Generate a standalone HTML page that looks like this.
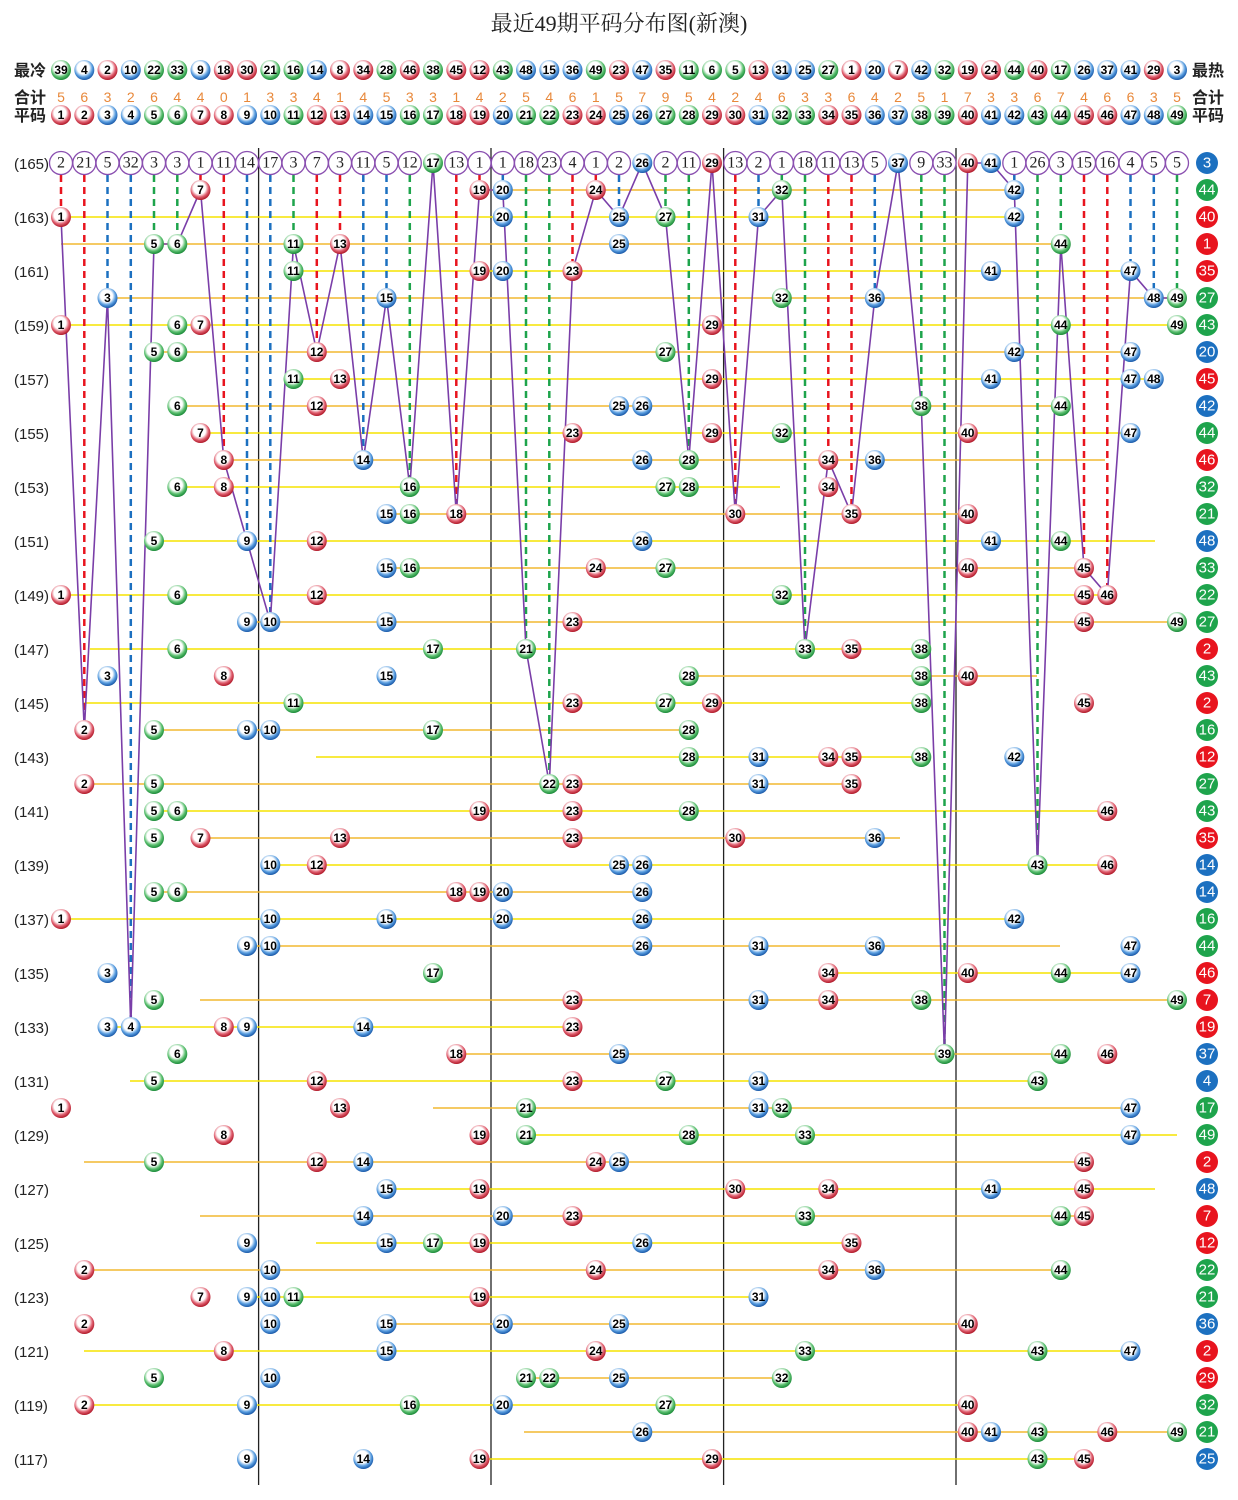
<!DOCTYPE html>
<html><head><meta charset="utf-8"><style>
body{margin:0;background:#fff}
svg{display:block}
text{font-family:"Liberation Sans","Noto Sans CJK SC",sans-serif}
.r circle{fill:url(#gr)}.b circle{fill:url(#gb)}.g circle{fill:url(#gg)}
.r text,.b text,.g text{font-size:12px;font-weight:bold;text-anchor:middle;dominant-baseline:central;fill:#000}
.t circle{fill:#fff;stroke:#8a4fb0;stroke-width:1.3}
.t text{font-family:"Liberation Serif",serif;font-size:16px;text-anchor:middle;dominant-baseline:central;fill:#222}
.s text{font-size:15px;text-anchor:middle;dominant-baseline:central;fill:#fff}
.sr{fill:#e8141e}.sb{fill:#1c70c0}.sg{fill:#1ea44c}
.lab{font-size:15px;fill:#222}
.hd{font-size:16px;font-weight:bold;fill:#222}
.cnt{font-size:14px;fill:#e8883a;text-anchor:middle}
.dr{stroke:#e8141e}.db{stroke:#1c70c0}.dg{stroke:#1ea44c}
.d line{stroke-width:2.5;stroke-dasharray:7 5}
.ly{stroke:#f5e400;stroke-width:1.6}.lo{stroke:#f2b830;stroke-width:1.6}
</style></head><body>
<svg width="1238" height="1500" viewBox="0 0 1238 1500" xmlns="http://www.w3.org/2000/svg">
<defs>
<radialGradient id="gr" cx="45%" cy="40%" r="60%"><stop offset="0" stop-color="#fff"/><stop offset=".5" stop-color="#fff"/><stop offset=".75" stop-color="#e06070"/><stop offset="1" stop-color="#b01828"/></radialGradient>
<radialGradient id="gb" cx="45%" cy="40%" r="60%"><stop offset="0" stop-color="#fff"/><stop offset=".5" stop-color="#fff"/><stop offset=".75" stop-color="#5a9ee0"/><stop offset="1" stop-color="#1858a8"/></radialGradient>
<radialGradient id="gg" cx="45%" cy="40%" r="60%"><stop offset="0" stop-color="#fff"/><stop offset=".5" stop-color="#fff"/><stop offset=".75" stop-color="#5cc070"/><stop offset="1" stop-color="#1a8a38"/></radialGradient>
</defs>
<text x="619" y="31" text-anchor="middle" style="font-family:'Liberation Serif','Noto Serif CJK SC',serif;font-size:22px;fill:#222">最近49期平码分布图(新澳)</text>

<!-- header labels -->
<text class="hd" x="14" y="76">最冷</text>
<text class="hd" x="1192" y="76">最热</text>
<text class="hd" x="14" y="103">合计</text>
<text class="hd" x="1192" y="103">合计</text>
<text class="hd" x="14" y="121">平码</text>
<text class="hd" x="1192" y="121">平码</text>

<!-- separators -->
<g stroke="#222" stroke-width="1.3">
<line x1="258.6" y1="148" x2="258.6" y2="1485"/><line x1="491" y1="148" x2="491" y2="1485"/><line x1="723.6" y1="148" x2="723.6" y2="1485"/><line x1="956" y1="148" x2="956" y2="1485"/>
</g>

<!-- horizontal lines -->
<g>
<line class="lo" x1="480" y1="190" x2="1015" y2="190"/>
<line class="ly" x1="61" y1="217" x2="1015" y2="217"/>
<line class="lo" x1="61" y1="244" x2="1060" y2="244"/>
<line class="ly" x1="290" y1="271" x2="1130" y2="271"/>
<line class="lo" x1="107" y1="298" x2="1177" y2="298"/>
<line class="ly" x1="61" y1="325" x2="1177" y2="325"/>
<line class="lo" x1="154" y1="352" x2="1130" y2="352"/>
<line class="ly" x1="290" y1="379" x2="1155" y2="379"/>
<line class="lo" x1="177" y1="406" x2="1060" y2="406"/>
<line class="ly" x1="200" y1="433" x2="1130" y2="433"/>
<line class="lo" x1="224" y1="460" x2="1105" y2="460"/>
<line class="ly" x1="177" y1="487" x2="780" y2="487"/>
<line class="lo" x1="386" y1="514" x2="967" y2="514"/>
<line class="ly" x1="154" y1="541" x2="1155" y2="541"/>
<line class="lo" x1="386" y1="568" x2="1085" y2="568"/>
<line class="ly" x1="61" y1="595" x2="1107" y2="595"/>
<line class="lo" x1="247" y1="622" x2="1177" y2="622"/>
<line class="ly" x1="90" y1="649" x2="921" y2="649"/>
<line class="lo" x1="688" y1="676" x2="1037" y2="676"/>
<line class="ly" x1="84" y1="703" x2="921" y2="703"/>
<line class="lo" x1="154" y1="730" x2="688" y2="730"/>
<line class="ly" x1="316" y1="757" x2="921" y2="757"/>
<line class="lo" x1="84" y1="784" x2="851" y2="784"/>
<line class="ly" x1="154" y1="811" x2="1107" y2="811"/>
<line class="lo" x1="200" y1="838" x2="900" y2="838"/>
<line class="ly" x1="270" y1="865" x2="1107" y2="865"/>
<line class="lo" x1="154" y1="892" x2="642" y2="892"/>
<line class="ly" x1="61" y1="919" x2="1015" y2="919"/>
<line class="lo" x1="247" y1="946" x2="1060" y2="946"/>
<line class="ly" x1="828" y1="973" x2="1130" y2="973"/>
<line class="lo" x1="200" y1="1000" x2="1177" y2="1000"/>
<line class="ly" x1="107" y1="1027" x2="572" y2="1027"/>
<line class="lo" x1="456" y1="1054" x2="1060" y2="1054"/>
<line class="ly" x1="130" y1="1081" x2="1037" y2="1081"/>
<line class="lo" x1="433" y1="1108" x2="1130" y2="1108"/>
<line class="ly" x1="524" y1="1135" x2="1177" y2="1135"/>
<line class="lo" x1="84" y1="1162" x2="1085" y2="1162"/>
<line class="ly" x1="386" y1="1189" x2="1155" y2="1189"/>
<line class="lo" x1="200" y1="1216" x2="1085" y2="1216"/>
<line class="ly" x1="316" y1="1243" x2="851" y2="1243"/>
<line class="lo" x1="84" y1="1270" x2="1060" y2="1270"/>
<line class="ly" x1="247" y1="1297" x2="760" y2="1297"/>
<line class="lo" x1="386" y1="1324" x2="967" y2="1324"/>
<line class="ly" x1="84" y1="1351" x2="1130" y2="1351"/>
<line class="lo" x1="524" y1="1378" x2="782" y2="1378"/>
<line class="ly" x1="84" y1="1405" x2="967" y2="1405"/>
<line class="lo" x1="524" y1="1432" x2="1177" y2="1432"/>
<line class="ly" x1="480" y1="1459" x2="1085" y2="1459"/>
</g>

<!-- dashed lines -->
<g class="d">
<line class="dr" x1="61" y1="175" x2="61" y2="207"/>
<line class="dr" x1="84.3" y1="175" x2="84.3" y2="720"/>
<line class="db" x1="107.5" y1="175" x2="107.5" y2="288"/>
<line class="db" x1="130.8" y1="175" x2="130.8" y2="1017"/>
<line class="dg" x1="154" y1="175" x2="154" y2="234"/>
<line class="dg" x1="177.3" y1="175" x2="177.3" y2="234"/>
<line class="dr" x1="200.5" y1="175" x2="200.5" y2="180"/>
<line class="dr" x1="223.8" y1="175" x2="223.8" y2="450"/>
<line class="db" x1="247" y1="175" x2="247" y2="531"/>
<line class="db" x1="270.3" y1="175" x2="270.3" y2="612"/>
<line class="dg" x1="293.5" y1="175" x2="293.5" y2="234"/>
<line class="dr" x1="316.8" y1="175" x2="316.8" y2="342"/>
<line class="dr" x1="340" y1="175" x2="340" y2="234"/>
<line class="db" x1="363.3" y1="175" x2="363.3" y2="450"/>
<line class="db" x1="386.5" y1="175" x2="386.5" y2="288"/>
<line class="dg" x1="409.8" y1="175" x2="409.8" y2="477"/>
<line class="dr" x1="456.3" y1="175" x2="456.3" y2="504"/>
<line class="dr" x1="479.5" y1="175" x2="479.5" y2="180"/>
<line class="db" x1="502.8" y1="175" x2="502.8" y2="180"/>
<line class="dg" x1="526" y1="175" x2="526" y2="639"/>
<line class="dg" x1="549.3" y1="175" x2="549.3" y2="774"/>
<line class="dr" x1="572.5" y1="175" x2="572.5" y2="261"/>
<line class="dr" x1="595.8" y1="175" x2="595.8" y2="180"/>
<line class="db" x1="619" y1="175" x2="619" y2="207"/>
<line class="dg" x1="665.5" y1="175" x2="665.5" y2="207"/>
<line class="dg" x1="688.8" y1="175" x2="688.8" y2="450"/>
<line class="dr" x1="735.3" y1="175" x2="735.3" y2="504"/>
<line class="db" x1="758.5" y1="175" x2="758.5" y2="207"/>
<line class="dg" x1="781.8" y1="175" x2="781.8" y2="180"/>
<line class="dg" x1="805" y1="175" x2="805" y2="639"/>
<line class="dr" x1="828.3" y1="175" x2="828.3" y2="450"/>
<line class="dr" x1="851.5" y1="175" x2="851.5" y2="504"/>
<line class="db" x1="874.8" y1="175" x2="874.8" y2="288"/>
<line class="dg" x1="921.3" y1="175" x2="921.3" y2="396"/>
<line class="dg" x1="944.5" y1="175" x2="944.5" y2="1044"/>
<line class="db" x1="1014.3" y1="175" x2="1014.3" y2="180"/>
<line class="dg" x1="1037.5" y1="175" x2="1037.5" y2="855"/>
<line class="dg" x1="1060.8" y1="175" x2="1060.8" y2="234"/>
<line class="dr" x1="1084" y1="175" x2="1084" y2="558"/>
<line class="dr" x1="1107.3" y1="175" x2="1107.3" y2="585"/>
<line class="db" x1="1130.5" y1="175" x2="1130.5" y2="261"/>
<line class="db" x1="1153.8" y1="175" x2="1153.8" y2="288"/>
<line class="dg" x1="1177" y1="175" x2="1177" y2="288"/>
</g>

<!-- purple line -->
<polyline fill="none" stroke="#7a3ea8" stroke-width="1.6" points="61,217 84.3,730 107.5,298 130.8,1027 154,244 177.3,244 200.5,190 223.8,460 247,541 270.3,622 293.5,244 316.8,352 340,244 363.3,460 386.5,298 409.8,487 433,163 456.3,514 479.5,190 502.8,190 526,649 549.3,784 572.5,271 595.8,190 619,217 642.3,163 665.5,217 688.8,460 712,163 735.3,514 758.5,217 781.8,190 805,649 828.3,460 851.5,514 874.8,298 898,163 921.3,406 944.5,1054 967.8,163 991,163 1014.3,190 1037.5,865 1060.8,244 1084,568 1107.3,595 1130.5,271 1153.8,298 1177,298"/>

<!-- row labels -->
<g class="lab">
<text x="14" y="169">(165)</text><text x="14" y="223">(163)</text><text x="14" y="277">(161)</text><text x="14" y="331">(159)</text><text x="14" y="385">(157)</text><text x="14" y="439">(155)</text><text x="14" y="493">(153)</text><text x="14" y="547">(151)</text><text x="14" y="601">(149)</text><text x="14" y="655">(147)</text><text x="14" y="709">(145)</text><text x="14" y="763">(143)</text><text x="14" y="817">(141)</text><text x="14" y="871">(139)</text><text x="14" y="925">(137)</text><text x="14" y="979">(135)</text><text x="14" y="1033">(133)</text><text x="14" y="1087">(131)</text><text x="14" y="1141">(129)</text><text x="14" y="1195">(127)</text><text x="14" y="1249">(125)</text><text x="14" y="1303">(123)</text><text x="14" y="1357">(121)</text><text x="14" y="1411">(119)</text><text x="14" y="1465">(117)</text>
</g>

<!-- 合计 counts -->
<g class="cnt">
<text x="61" y="102">5</text><text x="84.3" y="102">6</text><text x="107.5" y="102">3</text><text x="130.8" y="102">2</text><text x="154" y="102">6</text><text x="177.3" y="102">4</text><text x="200.5" y="102">4</text><text x="223.8" y="102">0</text><text x="247" y="102">1</text><text x="270.3" y="102">3</text><text x="293.5" y="102">3</text><text x="316.8" y="102">4</text><text x="340" y="102">1</text><text x="363.3" y="102">4</text><text x="386.5" y="102">5</text><text x="409.8" y="102">3</text><text x="433" y="102">3</text><text x="456.3" y="102">1</text><text x="479.5" y="102">4</text><text x="502.8" y="102">2</text><text x="526" y="102">5</text><text x="549.3" y="102">4</text><text x="572.5" y="102">6</text><text x="595.8" y="102">1</text><text x="619" y="102">5</text><text x="642.3" y="102">7</text><text x="665.5" y="102">9</text><text x="688.8" y="102">5</text><text x="712" y="102">4</text><text x="735.3" y="102">2</text><text x="758.5" y="102">4</text><text x="781.8" y="102">6</text><text x="805" y="102">3</text><text x="828.3" y="102">3</text><text x="851.5" y="102">6</text><text x="874.8" y="102">4</text><text x="898" y="102">2</text><text x="921.3" y="102">5</text><text x="944.5" y="102">1</text><text x="967.8" y="102">7</text><text x="991" y="102">3</text><text x="1014.3" y="102">3</text><text x="1037.5" y="102">6</text><text x="1060.8" y="102">7</text><text x="1084" y="102">4</text><text x="1107.3" y="102">6</text><text x="1130.5" y="102">6</text><text x="1153.8" y="102">3</text><text x="1177" y="102">5</text>
</g>

<!-- 最冷 row -->
<g class="g" transform="translate(61 70)"><circle r="10"/><text>39</text></g>
<g class="b" transform="translate(84.3 70)"><circle r="10"/><text>4</text></g>
<g class="r" transform="translate(107.5 70)"><circle r="10"/><text>2</text></g>
<g class="b" transform="translate(130.8 70)"><circle r="10"/><text>10</text></g>
<g class="g" transform="translate(154 70)"><circle r="10"/><text>22</text></g>
<g class="g" transform="translate(177.3 70)"><circle r="10"/><text>33</text></g>
<g class="b" transform="translate(200.5 70)"><circle r="10"/><text>9</text></g>
<g class="r" transform="translate(223.8 70)"><circle r="10"/><text>18</text></g>
<g class="r" transform="translate(247 70)"><circle r="10"/><text>30</text></g>
<g class="g" transform="translate(270.3 70)"><circle r="10"/><text>21</text></g>
<g class="g" transform="translate(293.5 70)"><circle r="10"/><text>16</text></g>
<g class="b" transform="translate(316.8 70)"><circle r="10"/><text>14</text></g>
<g class="r" transform="translate(340 70)"><circle r="10"/><text>8</text></g>
<g class="r" transform="translate(363.3 70)"><circle r="10"/><text>34</text></g>
<g class="g" transform="translate(386.5 70)"><circle r="10"/><text>28</text></g>
<g class="r" transform="translate(409.8 70)"><circle r="10"/><text>46</text></g>
<g class="g" transform="translate(433 70)"><circle r="10"/><text>38</text></g>
<g class="r" transform="translate(456.3 70)"><circle r="10"/><text>45</text></g>
<g class="r" transform="translate(479.5 70)"><circle r="10"/><text>12</text></g>
<g class="g" transform="translate(502.8 70)"><circle r="10"/><text>43</text></g>
<g class="b" transform="translate(526 70)"><circle r="10"/><text>48</text></g>
<g class="b" transform="translate(549.3 70)"><circle r="10"/><text>15</text></g>
<g class="b" transform="translate(572.5 70)"><circle r="10"/><text>36</text></g>
<g class="g" transform="translate(595.8 70)"><circle r="10"/><text>49</text></g>
<g class="r" transform="translate(619 70)"><circle r="10"/><text>23</text></g>
<g class="b" transform="translate(642.3 70)"><circle r="10"/><text>47</text></g>
<g class="r" transform="translate(665.5 70)"><circle r="10"/><text>35</text></g>
<g class="g" transform="translate(688.8 70)"><circle r="10"/><text>11</text></g>
<g class="g" transform="translate(712 70)"><circle r="10"/><text>6</text></g>
<g class="g" transform="translate(735.3 70)"><circle r="10"/><text>5</text></g>
<g class="r" transform="translate(758.5 70)"><circle r="10"/><text>13</text></g>
<g class="b" transform="translate(781.8 70)"><circle r="10"/><text>31</text></g>
<g class="b" transform="translate(805 70)"><circle r="10"/><text>25</text></g>
<g class="g" transform="translate(828.3 70)"><circle r="10"/><text>27</text></g>
<g class="r" transform="translate(851.5 70)"><circle r="10"/><text>1</text></g>
<g class="b" transform="translate(874.8 70)"><circle r="10"/><text>20</text></g>
<g class="r" transform="translate(898 70)"><circle r="10"/><text>7</text></g>
<g class="b" transform="translate(921.3 70)"><circle r="10"/><text>42</text></g>
<g class="g" transform="translate(944.5 70)"><circle r="10"/><text>32</text></g>
<g class="r" transform="translate(967.8 70)"><circle r="10"/><text>19</text></g>
<g class="r" transform="translate(991 70)"><circle r="10"/><text>24</text></g>
<g class="g" transform="translate(1014.3 70)"><circle r="10"/><text>44</text></g>
<g class="r" transform="translate(1037.5 70)"><circle r="10"/><text>40</text></g>
<g class="g" transform="translate(1060.8 70)"><circle r="10"/><text>17</text></g>
<g class="b" transform="translate(1084 70)"><circle r="10"/><text>26</text></g>
<g class="b" transform="translate(1107.3 70)"><circle r="10"/><text>37</text></g>
<g class="b" transform="translate(1130.5 70)"><circle r="10"/><text>41</text></g>
<g class="r" transform="translate(1153.8 70)"><circle r="10"/><text>29</text></g>
<g class="b" transform="translate(1177 70)"><circle r="10"/><text>3</text></g>

<!-- 平码 row -->
<g class="r" transform="translate(61 115)"><circle r="10"/><text>1</text></g>
<g class="r" transform="translate(84.3 115)"><circle r="10"/><text>2</text></g>
<g class="b" transform="translate(107.5 115)"><circle r="10"/><text>3</text></g>
<g class="b" transform="translate(130.8 115)"><circle r="10"/><text>4</text></g>
<g class="g" transform="translate(154 115)"><circle r="10"/><text>5</text></g>
<g class="g" transform="translate(177.3 115)"><circle r="10"/><text>6</text></g>
<g class="r" transform="translate(200.5 115)"><circle r="10"/><text>7</text></g>
<g class="r" transform="translate(223.8 115)"><circle r="10"/><text>8</text></g>
<g class="b" transform="translate(247 115)"><circle r="10"/><text>9</text></g>
<g class="b" transform="translate(270.3 115)"><circle r="10"/><text>10</text></g>
<g class="g" transform="translate(293.5 115)"><circle r="10"/><text>11</text></g>
<g class="r" transform="translate(316.8 115)"><circle r="10"/><text>12</text></g>
<g class="r" transform="translate(340 115)"><circle r="10"/><text>13</text></g>
<g class="b" transform="translate(363.3 115)"><circle r="10"/><text>14</text></g>
<g class="b" transform="translate(386.5 115)"><circle r="10"/><text>15</text></g>
<g class="g" transform="translate(409.8 115)"><circle r="10"/><text>16</text></g>
<g class="g" transform="translate(433 115)"><circle r="10"/><text>17</text></g>
<g class="r" transform="translate(456.3 115)"><circle r="10"/><text>18</text></g>
<g class="r" transform="translate(479.5 115)"><circle r="10"/><text>19</text></g>
<g class="b" transform="translate(502.8 115)"><circle r="10"/><text>20</text></g>
<g class="g" transform="translate(526 115)"><circle r="10"/><text>21</text></g>
<g class="g" transform="translate(549.3 115)"><circle r="10"/><text>22</text></g>
<g class="r" transform="translate(572.5 115)"><circle r="10"/><text>23</text></g>
<g class="r" transform="translate(595.8 115)"><circle r="10"/><text>24</text></g>
<g class="b" transform="translate(619 115)"><circle r="10"/><text>25</text></g>
<g class="b" transform="translate(642.3 115)"><circle r="10"/><text>26</text></g>
<g class="g" transform="translate(665.5 115)"><circle r="10"/><text>27</text></g>
<g class="g" transform="translate(688.8 115)"><circle r="10"/><text>28</text></g>
<g class="r" transform="translate(712 115)"><circle r="10"/><text>29</text></g>
<g class="r" transform="translate(735.3 115)"><circle r="10"/><text>30</text></g>
<g class="b" transform="translate(758.5 115)"><circle r="10"/><text>31</text></g>
<g class="g" transform="translate(781.8 115)"><circle r="10"/><text>32</text></g>
<g class="g" transform="translate(805 115)"><circle r="10"/><text>33</text></g>
<g class="r" transform="translate(828.3 115)"><circle r="10"/><text>34</text></g>
<g class="r" transform="translate(851.5 115)"><circle r="10"/><text>35</text></g>
<g class="b" transform="translate(874.8 115)"><circle r="10"/><text>36</text></g>
<g class="b" transform="translate(898 115)"><circle r="10"/><text>37</text></g>
<g class="g" transform="translate(921.3 115)"><circle r="10"/><text>38</text></g>
<g class="g" transform="translate(944.5 115)"><circle r="10"/><text>39</text></g>
<g class="r" transform="translate(967.8 115)"><circle r="10"/><text>40</text></g>
<g class="b" transform="translate(991 115)"><circle r="10"/><text>41</text></g>
<g class="b" transform="translate(1014.3 115)"><circle r="10"/><text>42</text></g>
<g class="g" transform="translate(1037.5 115)"><circle r="10"/><text>43</text></g>
<g class="g" transform="translate(1060.8 115)"><circle r="10"/><text>44</text></g>
<g class="r" transform="translate(1084 115)"><circle r="10"/><text>45</text></g>
<g class="r" transform="translate(1107.3 115)"><circle r="10"/><text>46</text></g>
<g class="b" transform="translate(1130.5 115)"><circle r="10"/><text>47</text></g>
<g class="b" transform="translate(1153.8 115)"><circle r="10"/><text>48</text></g>
<g class="g" transform="translate(1177 115)"><circle r="10"/><text>49</text></g>

<!-- top row (165) -->
<g class="t" transform="translate(61 163)"><circle r="11.5"/><text>2</text></g>
<g class="t" transform="translate(84.3 163)"><circle r="11.5"/><text>21</text></g>
<g class="t" transform="translate(107.5 163)"><circle r="11.5"/><text>5</text></g>
<g class="t" transform="translate(130.8 163)"><circle r="11.5"/><text>32</text></g>
<g class="t" transform="translate(154 163)"><circle r="11.5"/><text>3</text></g>
<g class="t" transform="translate(177.3 163)"><circle r="11.5"/><text>3</text></g>
<g class="t" transform="translate(200.5 163)"><circle r="11.5"/><text>1</text></g>
<g class="t" transform="translate(223.8 163)"><circle r="11.5"/><text>11</text></g>
<g class="t" transform="translate(247 163)"><circle r="11.5"/><text>14</text></g>
<g class="t" transform="translate(270.3 163)"><circle r="11.5"/><text>17</text></g>
<g class="t" transform="translate(293.5 163)"><circle r="11.5"/><text>3</text></g>
<g class="t" transform="translate(316.8 163)"><circle r="11.5"/><text>7</text></g>
<g class="t" transform="translate(340 163)"><circle r="11.5"/><text>3</text></g>
<g class="t" transform="translate(363.3 163)"><circle r="11.5"/><text>11</text></g>
<g class="t" transform="translate(386.5 163)"><circle r="11.5"/><text>5</text></g>
<g class="t" transform="translate(409.8 163)"><circle r="11.5"/><text>12</text></g>
<g class="g" transform="translate(433 163)"><circle r="10"/><text>17</text></g>
<g class="t" transform="translate(456.3 163)"><circle r="11.5"/><text>13</text></g>
<g class="t" transform="translate(479.5 163)"><circle r="11.5"/><text>1</text></g>
<g class="t" transform="translate(502.8 163)"><circle r="11.5"/><text>1</text></g>
<g class="t" transform="translate(526 163)"><circle r="11.5"/><text>18</text></g>
<g class="t" transform="translate(549.3 163)"><circle r="11.5"/><text>23</text></g>
<g class="t" transform="translate(572.5 163)"><circle r="11.5"/><text>4</text></g>
<g class="t" transform="translate(595.8 163)"><circle r="11.5"/><text>1</text></g>
<g class="t" transform="translate(619 163)"><circle r="11.5"/><text>2</text></g>
<g class="b" transform="translate(642.3 163)"><circle r="10"/><text>26</text></g>
<g class="t" transform="translate(665.5 163)"><circle r="11.5"/><text>2</text></g>
<g class="t" transform="translate(688.8 163)"><circle r="11.5"/><text>11</text></g>
<g class="r" transform="translate(712 163)"><circle r="10"/><text>29</text></g>
<g class="t" transform="translate(735.3 163)"><circle r="11.5"/><text>13</text></g>
<g class="t" transform="translate(758.5 163)"><circle r="11.5"/><text>2</text></g>
<g class="t" transform="translate(781.8 163)"><circle r="11.5"/><text>1</text></g>
<g class="t" transform="translate(805 163)"><circle r="11.5"/><text>18</text></g>
<g class="t" transform="translate(828.3 163)"><circle r="11.5"/><text>11</text></g>
<g class="t" transform="translate(851.5 163)"><circle r="11.5"/><text>13</text></g>
<g class="t" transform="translate(874.8 163)"><circle r="11.5"/><text>5</text></g>
<g class="b" transform="translate(898 163)"><circle r="10"/><text>37</text></g>
<g class="t" transform="translate(921.3 163)"><circle r="11.5"/><text>9</text></g>
<g class="t" transform="translate(944.5 163)"><circle r="11.5"/><text>33</text></g>
<g class="r" transform="translate(967.8 163)"><circle r="10"/><text>40</text></g>
<g class="b" transform="translate(991 163)"><circle r="10"/><text>41</text></g>
<g class="t" transform="translate(1014.3 163)"><circle r="11.5"/><text>1</text></g>
<g class="t" transform="translate(1037.5 163)"><circle r="11.5"/><text>26</text></g>
<g class="t" transform="translate(1060.8 163)"><circle r="11.5"/><text>3</text></g>
<g class="t" transform="translate(1084 163)"><circle r="11.5"/><text>15</text></g>
<g class="t" transform="translate(1107.3 163)"><circle r="11.5"/><text>16</text></g>
<g class="t" transform="translate(1130.5 163)"><circle r="11.5"/><text>4</text></g>
<g class="t" transform="translate(1153.8 163)"><circle r="11.5"/><text>5</text></g>
<g class="t" transform="translate(1177 163)"><circle r="11.5"/><text>5</text></g>

<!-- data rows -->
<g class="r" transform="translate(200.5 190)"><circle r="10"/><text>7</text></g><g class="r" transform="translate(479.5 190)"><circle r="10"/><text>19</text></g><g class="b" transform="translate(502.8 190)"><circle r="10"/><text>20</text></g><g class="r" transform="translate(595.8 190)"><circle r="10"/><text>24</text></g><g class="g" transform="translate(781.8 190)"><circle r="10"/><text>32</text></g><g class="b" transform="translate(1014.3 190)"><circle r="10"/><text>42</text></g>
<g class="r" transform="translate(61 217)"><circle r="10"/><text>1</text></g><g class="b" transform="translate(502.8 217)"><circle r="10"/><text>20</text></g><g class="b" transform="translate(619 217)"><circle r="10"/><text>25</text></g><g class="g" transform="translate(665.5 217)"><circle r="10"/><text>27</text></g><g class="b" transform="translate(758.5 217)"><circle r="10"/><text>31</text></g><g class="b" transform="translate(1014.3 217)"><circle r="10"/><text>42</text></g>
<g class="g" transform="translate(154 244)"><circle r="10"/><text>5</text></g><g class="g" transform="translate(177.3 244)"><circle r="10"/><text>6</text></g><g class="g" transform="translate(293.5 244)"><circle r="10"/><text>11</text></g><g class="r" transform="translate(340 244)"><circle r="10"/><text>13</text></g><g class="b" transform="translate(619 244)"><circle r="10"/><text>25</text></g><g class="g" transform="translate(1060.8 244)"><circle r="10"/><text>44</text></g>
<g class="g" transform="translate(293.5 271)"><circle r="10"/><text>11</text></g><g class="r" transform="translate(479.5 271)"><circle r="10"/><text>19</text></g><g class="b" transform="translate(502.8 271)"><circle r="10"/><text>20</text></g><g class="r" transform="translate(572.5 271)"><circle r="10"/><text>23</text></g><g class="b" transform="translate(991 271)"><circle r="10"/><text>41</text></g><g class="b" transform="translate(1130.5 271)"><circle r="10"/><text>47</text></g>
<g class="b" transform="translate(107.5 298)"><circle r="10"/><text>3</text></g><g class="b" transform="translate(386.5 298)"><circle r="10"/><text>15</text></g><g class="g" transform="translate(781.8 298)"><circle r="10"/><text>32</text></g><g class="b" transform="translate(874.8 298)"><circle r="10"/><text>36</text></g><g class="b" transform="translate(1153.8 298)"><circle r="10"/><text>48</text></g><g class="g" transform="translate(1177 298)"><circle r="10"/><text>49</text></g>
<g class="r" transform="translate(61 325)"><circle r="10"/><text>1</text></g><g class="g" transform="translate(177.3 325)"><circle r="10"/><text>6</text></g><g class="r" transform="translate(200.5 325)"><circle r="10"/><text>7</text></g><g class="r" transform="translate(712 325)"><circle r="10"/><text>29</text></g><g class="g" transform="translate(1060.8 325)"><circle r="10"/><text>44</text></g><g class="g" transform="translate(1177 325)"><circle r="10"/><text>49</text></g>
<g class="g" transform="translate(154 352)"><circle r="10"/><text>5</text></g><g class="g" transform="translate(177.3 352)"><circle r="10"/><text>6</text></g><g class="r" transform="translate(316.8 352)"><circle r="10"/><text>12</text></g><g class="g" transform="translate(665.5 352)"><circle r="10"/><text>27</text></g><g class="b" transform="translate(1014.3 352)"><circle r="10"/><text>42</text></g><g class="b" transform="translate(1130.5 352)"><circle r="10"/><text>47</text></g>
<g class="g" transform="translate(293.5 379)"><circle r="10"/><text>11</text></g><g class="r" transform="translate(340 379)"><circle r="10"/><text>13</text></g><g class="r" transform="translate(712 379)"><circle r="10"/><text>29</text></g><g class="b" transform="translate(991 379)"><circle r="10"/><text>41</text></g><g class="b" transform="translate(1130.5 379)"><circle r="10"/><text>47</text></g><g class="b" transform="translate(1153.8 379)"><circle r="10"/><text>48</text></g>
<g class="g" transform="translate(177.3 406)"><circle r="10"/><text>6</text></g><g class="r" transform="translate(316.8 406)"><circle r="10"/><text>12</text></g><g class="b" transform="translate(619 406)"><circle r="10"/><text>25</text></g><g class="b" transform="translate(642.3 406)"><circle r="10"/><text>26</text></g><g class="g" transform="translate(921.3 406)"><circle r="10"/><text>38</text></g><g class="g" transform="translate(1060.8 406)"><circle r="10"/><text>44</text></g>
<g class="r" transform="translate(200.5 433)"><circle r="10"/><text>7</text></g><g class="r" transform="translate(572.5 433)"><circle r="10"/><text>23</text></g><g class="r" transform="translate(712 433)"><circle r="10"/><text>29</text></g><g class="g" transform="translate(781.8 433)"><circle r="10"/><text>32</text></g><g class="r" transform="translate(967.8 433)"><circle r="10"/><text>40</text></g><g class="b" transform="translate(1130.5 433)"><circle r="10"/><text>47</text></g>
<g class="r" transform="translate(223.8 460)"><circle r="10"/><text>8</text></g><g class="b" transform="translate(363.3 460)"><circle r="10"/><text>14</text></g><g class="b" transform="translate(642.3 460)"><circle r="10"/><text>26</text></g><g class="g" transform="translate(688.8 460)"><circle r="10"/><text>28</text></g><g class="r" transform="translate(828.3 460)"><circle r="10"/><text>34</text></g><g class="b" transform="translate(874.8 460)"><circle r="10"/><text>36</text></g>
<g class="g" transform="translate(177.3 487)"><circle r="10"/><text>6</text></g><g class="r" transform="translate(223.8 487)"><circle r="10"/><text>8</text></g><g class="g" transform="translate(409.8 487)"><circle r="10"/><text>16</text></g><g class="g" transform="translate(665.5 487)"><circle r="10"/><text>27</text></g><g class="g" transform="translate(688.8 487)"><circle r="10"/><text>28</text></g><g class="r" transform="translate(828.3 487)"><circle r="10"/><text>34</text></g>
<g class="b" transform="translate(386.5 514)"><circle r="10"/><text>15</text></g><g class="g" transform="translate(409.8 514)"><circle r="10"/><text>16</text></g><g class="r" transform="translate(456.3 514)"><circle r="10"/><text>18</text></g><g class="r" transform="translate(735.3 514)"><circle r="10"/><text>30</text></g><g class="r" transform="translate(851.5 514)"><circle r="10"/><text>35</text></g><g class="r" transform="translate(967.8 514)"><circle r="10"/><text>40</text></g>
<g class="g" transform="translate(154 541)"><circle r="10"/><text>5</text></g><g class="b" transform="translate(247 541)"><circle r="10"/><text>9</text></g><g class="r" transform="translate(316.8 541)"><circle r="10"/><text>12</text></g><g class="b" transform="translate(642.3 541)"><circle r="10"/><text>26</text></g><g class="b" transform="translate(991 541)"><circle r="10"/><text>41</text></g><g class="g" transform="translate(1060.8 541)"><circle r="10"/><text>44</text></g>
<g class="b" transform="translate(386.5 568)"><circle r="10"/><text>15</text></g><g class="g" transform="translate(409.8 568)"><circle r="10"/><text>16</text></g><g class="r" transform="translate(595.8 568)"><circle r="10"/><text>24</text></g><g class="g" transform="translate(665.5 568)"><circle r="10"/><text>27</text></g><g class="r" transform="translate(967.8 568)"><circle r="10"/><text>40</text></g><g class="r" transform="translate(1084 568)"><circle r="10"/><text>45</text></g>
<g class="r" transform="translate(61 595)"><circle r="10"/><text>1</text></g><g class="g" transform="translate(177.3 595)"><circle r="10"/><text>6</text></g><g class="r" transform="translate(316.8 595)"><circle r="10"/><text>12</text></g><g class="g" transform="translate(781.8 595)"><circle r="10"/><text>32</text></g><g class="r" transform="translate(1084 595)"><circle r="10"/><text>45</text></g><g class="r" transform="translate(1107.3 595)"><circle r="10"/><text>46</text></g>
<g class="b" transform="translate(247 622)"><circle r="10"/><text>9</text></g><g class="b" transform="translate(270.3 622)"><circle r="10"/><text>10</text></g><g class="b" transform="translate(386.5 622)"><circle r="10"/><text>15</text></g><g class="r" transform="translate(572.5 622)"><circle r="10"/><text>23</text></g><g class="r" transform="translate(1084 622)"><circle r="10"/><text>45</text></g><g class="g" transform="translate(1177 622)"><circle r="10"/><text>49</text></g>
<g class="g" transform="translate(177.3 649)"><circle r="10"/><text>6</text></g><g class="g" transform="translate(433 649)"><circle r="10"/><text>17</text></g><g class="g" transform="translate(526 649)"><circle r="10"/><text>21</text></g><g class="g" transform="translate(805 649)"><circle r="10"/><text>33</text></g><g class="r" transform="translate(851.5 649)"><circle r="10"/><text>35</text></g><g class="g" transform="translate(921.3 649)"><circle r="10"/><text>38</text></g>
<g class="b" transform="translate(107.5 676)"><circle r="10"/><text>3</text></g><g class="r" transform="translate(223.8 676)"><circle r="10"/><text>8</text></g><g class="b" transform="translate(386.5 676)"><circle r="10"/><text>15</text></g><g class="g" transform="translate(688.8 676)"><circle r="10"/><text>28</text></g><g class="g" transform="translate(921.3 676)"><circle r="10"/><text>38</text></g><g class="r" transform="translate(967.8 676)"><circle r="10"/><text>40</text></g>
<g class="g" transform="translate(293.5 703)"><circle r="10"/><text>11</text></g><g class="r" transform="translate(572.5 703)"><circle r="10"/><text>23</text></g><g class="g" transform="translate(665.5 703)"><circle r="10"/><text>27</text></g><g class="r" transform="translate(712 703)"><circle r="10"/><text>29</text></g><g class="g" transform="translate(921.3 703)"><circle r="10"/><text>38</text></g><g class="r" transform="translate(1084 703)"><circle r="10"/><text>45</text></g>
<g class="r" transform="translate(84.3 730)"><circle r="10"/><text>2</text></g><g class="g" transform="translate(154 730)"><circle r="10"/><text>5</text></g><g class="b" transform="translate(247 730)"><circle r="10"/><text>9</text></g><g class="b" transform="translate(270.3 730)"><circle r="10"/><text>10</text></g><g class="g" transform="translate(433 730)"><circle r="10"/><text>17</text></g><g class="g" transform="translate(688.8 730)"><circle r="10"/><text>28</text></g>
<g class="g" transform="translate(688.8 757)"><circle r="10"/><text>28</text></g><g class="b" transform="translate(758.5 757)"><circle r="10"/><text>31</text></g><g class="r" transform="translate(828.3 757)"><circle r="10"/><text>34</text></g><g class="r" transform="translate(851.5 757)"><circle r="10"/><text>35</text></g><g class="g" transform="translate(921.3 757)"><circle r="10"/><text>38</text></g><g class="b" transform="translate(1014.3 757)"><circle r="10"/><text>42</text></g>
<g class="r" transform="translate(84.3 784)"><circle r="10"/><text>2</text></g><g class="g" transform="translate(154 784)"><circle r="10"/><text>5</text></g><g class="g" transform="translate(549.3 784)"><circle r="10"/><text>22</text></g><g class="r" transform="translate(572.5 784)"><circle r="10"/><text>23</text></g><g class="b" transform="translate(758.5 784)"><circle r="10"/><text>31</text></g><g class="r" transform="translate(851.5 784)"><circle r="10"/><text>35</text></g>
<g class="g" transform="translate(154 811)"><circle r="10"/><text>5</text></g><g class="g" transform="translate(177.3 811)"><circle r="10"/><text>6</text></g><g class="r" transform="translate(479.5 811)"><circle r="10"/><text>19</text></g><g class="r" transform="translate(572.5 811)"><circle r="10"/><text>23</text></g><g class="g" transform="translate(688.8 811)"><circle r="10"/><text>28</text></g><g class="r" transform="translate(1107.3 811)"><circle r="10"/><text>46</text></g>
<g class="g" transform="translate(154 838)"><circle r="10"/><text>5</text></g><g class="r" transform="translate(200.5 838)"><circle r="10"/><text>7</text></g><g class="r" transform="translate(340 838)"><circle r="10"/><text>13</text></g><g class="r" transform="translate(572.5 838)"><circle r="10"/><text>23</text></g><g class="r" transform="translate(735.3 838)"><circle r="10"/><text>30</text></g><g class="b" transform="translate(874.8 838)"><circle r="10"/><text>36</text></g>
<g class="b" transform="translate(270.3 865)"><circle r="10"/><text>10</text></g><g class="r" transform="translate(316.8 865)"><circle r="10"/><text>12</text></g><g class="b" transform="translate(619 865)"><circle r="10"/><text>25</text></g><g class="b" transform="translate(642.3 865)"><circle r="10"/><text>26</text></g><g class="g" transform="translate(1037.5 865)"><circle r="10"/><text>43</text></g><g class="r" transform="translate(1107.3 865)"><circle r="10"/><text>46</text></g>
<g class="g" transform="translate(154 892)"><circle r="10"/><text>5</text></g><g class="g" transform="translate(177.3 892)"><circle r="10"/><text>6</text></g><g class="r" transform="translate(456.3 892)"><circle r="10"/><text>18</text></g><g class="r" transform="translate(479.5 892)"><circle r="10"/><text>19</text></g><g class="b" transform="translate(502.8 892)"><circle r="10"/><text>20</text></g><g class="b" transform="translate(642.3 892)"><circle r="10"/><text>26</text></g>
<g class="r" transform="translate(61 919)"><circle r="10"/><text>1</text></g><g class="b" transform="translate(270.3 919)"><circle r="10"/><text>10</text></g><g class="b" transform="translate(386.5 919)"><circle r="10"/><text>15</text></g><g class="b" transform="translate(502.8 919)"><circle r="10"/><text>20</text></g><g class="b" transform="translate(642.3 919)"><circle r="10"/><text>26</text></g><g class="b" transform="translate(1014.3 919)"><circle r="10"/><text>42</text></g>
<g class="b" transform="translate(247 946)"><circle r="10"/><text>9</text></g><g class="b" transform="translate(270.3 946)"><circle r="10"/><text>10</text></g><g class="b" transform="translate(642.3 946)"><circle r="10"/><text>26</text></g><g class="b" transform="translate(758.5 946)"><circle r="10"/><text>31</text></g><g class="b" transform="translate(874.8 946)"><circle r="10"/><text>36</text></g><g class="b" transform="translate(1130.5 946)"><circle r="10"/><text>47</text></g>
<g class="b" transform="translate(107.5 973)"><circle r="10"/><text>3</text></g><g class="g" transform="translate(433 973)"><circle r="10"/><text>17</text></g><g class="r" transform="translate(828.3 973)"><circle r="10"/><text>34</text></g><g class="r" transform="translate(967.8 973)"><circle r="10"/><text>40</text></g><g class="g" transform="translate(1060.8 973)"><circle r="10"/><text>44</text></g><g class="b" transform="translate(1130.5 973)"><circle r="10"/><text>47</text></g>
<g class="g" transform="translate(154 1000)"><circle r="10"/><text>5</text></g><g class="r" transform="translate(572.5 1000)"><circle r="10"/><text>23</text></g><g class="b" transform="translate(758.5 1000)"><circle r="10"/><text>31</text></g><g class="r" transform="translate(828.3 1000)"><circle r="10"/><text>34</text></g><g class="g" transform="translate(921.3 1000)"><circle r="10"/><text>38</text></g><g class="g" transform="translate(1177 1000)"><circle r="10"/><text>49</text></g>
<g class="b" transform="translate(107.5 1027)"><circle r="10"/><text>3</text></g><g class="b" transform="translate(130.8 1027)"><circle r="10"/><text>4</text></g><g class="r" transform="translate(223.8 1027)"><circle r="10"/><text>8</text></g><g class="b" transform="translate(247 1027)"><circle r="10"/><text>9</text></g><g class="b" transform="translate(363.3 1027)"><circle r="10"/><text>14</text></g><g class="r" transform="translate(572.5 1027)"><circle r="10"/><text>23</text></g>
<g class="g" transform="translate(177.3 1054)"><circle r="10"/><text>6</text></g><g class="r" transform="translate(456.3 1054)"><circle r="10"/><text>18</text></g><g class="b" transform="translate(619 1054)"><circle r="10"/><text>25</text></g><g class="g" transform="translate(944.5 1054)"><circle r="10"/><text>39</text></g><g class="g" transform="translate(1060.8 1054)"><circle r="10"/><text>44</text></g><g class="r" transform="translate(1107.3 1054)"><circle r="10"/><text>46</text></g>
<g class="g" transform="translate(154 1081)"><circle r="10"/><text>5</text></g><g class="r" transform="translate(316.8 1081)"><circle r="10"/><text>12</text></g><g class="r" transform="translate(572.5 1081)"><circle r="10"/><text>23</text></g><g class="g" transform="translate(665.5 1081)"><circle r="10"/><text>27</text></g><g class="b" transform="translate(758.5 1081)"><circle r="10"/><text>31</text></g><g class="g" transform="translate(1037.5 1081)"><circle r="10"/><text>43</text></g>
<g class="r" transform="translate(61 1108)"><circle r="10"/><text>1</text></g><g class="r" transform="translate(340 1108)"><circle r="10"/><text>13</text></g><g class="g" transform="translate(526 1108)"><circle r="10"/><text>21</text></g><g class="b" transform="translate(758.5 1108)"><circle r="10"/><text>31</text></g><g class="g" transform="translate(781.8 1108)"><circle r="10"/><text>32</text></g><g class="b" transform="translate(1130.5 1108)"><circle r="10"/><text>47</text></g>
<g class="r" transform="translate(223.8 1135)"><circle r="10"/><text>8</text></g><g class="r" transform="translate(479.5 1135)"><circle r="10"/><text>19</text></g><g class="g" transform="translate(526 1135)"><circle r="10"/><text>21</text></g><g class="g" transform="translate(688.8 1135)"><circle r="10"/><text>28</text></g><g class="g" transform="translate(805 1135)"><circle r="10"/><text>33</text></g><g class="b" transform="translate(1130.5 1135)"><circle r="10"/><text>47</text></g>
<g class="g" transform="translate(154 1162)"><circle r="10"/><text>5</text></g><g class="r" transform="translate(316.8 1162)"><circle r="10"/><text>12</text></g><g class="b" transform="translate(363.3 1162)"><circle r="10"/><text>14</text></g><g class="r" transform="translate(595.8 1162)"><circle r="10"/><text>24</text></g><g class="b" transform="translate(619 1162)"><circle r="10"/><text>25</text></g><g class="r" transform="translate(1084 1162)"><circle r="10"/><text>45</text></g>
<g class="b" transform="translate(386.5 1189)"><circle r="10"/><text>15</text></g><g class="r" transform="translate(479.5 1189)"><circle r="10"/><text>19</text></g><g class="r" transform="translate(735.3 1189)"><circle r="10"/><text>30</text></g><g class="r" transform="translate(828.3 1189)"><circle r="10"/><text>34</text></g><g class="b" transform="translate(991 1189)"><circle r="10"/><text>41</text></g><g class="r" transform="translate(1084 1189)"><circle r="10"/><text>45</text></g>
<g class="b" transform="translate(363.3 1216)"><circle r="10"/><text>14</text></g><g class="b" transform="translate(502.8 1216)"><circle r="10"/><text>20</text></g><g class="r" transform="translate(572.5 1216)"><circle r="10"/><text>23</text></g><g class="g" transform="translate(805 1216)"><circle r="10"/><text>33</text></g><g class="g" transform="translate(1060.8 1216)"><circle r="10"/><text>44</text></g><g class="r" transform="translate(1084 1216)"><circle r="10"/><text>45</text></g>
<g class="b" transform="translate(247 1243)"><circle r="10"/><text>9</text></g><g class="b" transform="translate(386.5 1243)"><circle r="10"/><text>15</text></g><g class="g" transform="translate(433 1243)"><circle r="10"/><text>17</text></g><g class="r" transform="translate(479.5 1243)"><circle r="10"/><text>19</text></g><g class="b" transform="translate(642.3 1243)"><circle r="10"/><text>26</text></g><g class="r" transform="translate(851.5 1243)"><circle r="10"/><text>35</text></g>
<g class="r" transform="translate(84.3 1270)"><circle r="10"/><text>2</text></g><g class="b" transform="translate(270.3 1270)"><circle r="10"/><text>10</text></g><g class="r" transform="translate(595.8 1270)"><circle r="10"/><text>24</text></g><g class="r" transform="translate(828.3 1270)"><circle r="10"/><text>34</text></g><g class="b" transform="translate(874.8 1270)"><circle r="10"/><text>36</text></g><g class="g" transform="translate(1060.8 1270)"><circle r="10"/><text>44</text></g>
<g class="r" transform="translate(200.5 1297)"><circle r="10"/><text>7</text></g><g class="b" transform="translate(247 1297)"><circle r="10"/><text>9</text></g><g class="b" transform="translate(270.3 1297)"><circle r="10"/><text>10</text></g><g class="g" transform="translate(293.5 1297)"><circle r="10"/><text>11</text></g><g class="r" transform="translate(479.5 1297)"><circle r="10"/><text>19</text></g><g class="b" transform="translate(758.5 1297)"><circle r="10"/><text>31</text></g>
<g class="r" transform="translate(84.3 1324)"><circle r="10"/><text>2</text></g><g class="b" transform="translate(270.3 1324)"><circle r="10"/><text>10</text></g><g class="b" transform="translate(386.5 1324)"><circle r="10"/><text>15</text></g><g class="b" transform="translate(502.8 1324)"><circle r="10"/><text>20</text></g><g class="b" transform="translate(619 1324)"><circle r="10"/><text>25</text></g><g class="r" transform="translate(967.8 1324)"><circle r="10"/><text>40</text></g>
<g class="r" transform="translate(223.8 1351)"><circle r="10"/><text>8</text></g><g class="b" transform="translate(386.5 1351)"><circle r="10"/><text>15</text></g><g class="r" transform="translate(595.8 1351)"><circle r="10"/><text>24</text></g><g class="g" transform="translate(805 1351)"><circle r="10"/><text>33</text></g><g class="g" transform="translate(1037.5 1351)"><circle r="10"/><text>43</text></g><g class="b" transform="translate(1130.5 1351)"><circle r="10"/><text>47</text></g>
<g class="g" transform="translate(154 1378)"><circle r="10"/><text>5</text></g><g class="b" transform="translate(270.3 1378)"><circle r="10"/><text>10</text></g><g class="g" transform="translate(526 1378)"><circle r="10"/><text>21</text></g><g class="g" transform="translate(549.3 1378)"><circle r="10"/><text>22</text></g><g class="b" transform="translate(619 1378)"><circle r="10"/><text>25</text></g><g class="g" transform="translate(781.8 1378)"><circle r="10"/><text>32</text></g>
<g class="r" transform="translate(84.3 1405)"><circle r="10"/><text>2</text></g><g class="b" transform="translate(247 1405)"><circle r="10"/><text>9</text></g><g class="g" transform="translate(409.8 1405)"><circle r="10"/><text>16</text></g><g class="b" transform="translate(502.8 1405)"><circle r="10"/><text>20</text></g><g class="g" transform="translate(665.5 1405)"><circle r="10"/><text>27</text></g><g class="r" transform="translate(967.8 1405)"><circle r="10"/><text>40</text></g>
<g class="b" transform="translate(642.3 1432)"><circle r="10"/><text>26</text></g><g class="r" transform="translate(967.8 1432)"><circle r="10"/><text>40</text></g><g class="b" transform="translate(991 1432)"><circle r="10"/><text>41</text></g><g class="g" transform="translate(1037.5 1432)"><circle r="10"/><text>43</text></g><g class="r" transform="translate(1107.3 1432)"><circle r="10"/><text>46</text></g><g class="g" transform="translate(1177 1432)"><circle r="10"/><text>49</text></g>
<g class="b" transform="translate(247 1459)"><circle r="10"/><text>9</text></g><g class="b" transform="translate(363.3 1459)"><circle r="10"/><text>14</text></g><g class="r" transform="translate(479.5 1459)"><circle r="10"/><text>19</text></g><g class="r" transform="translate(712 1459)"><circle r="10"/><text>29</text></g><g class="g" transform="translate(1037.5 1459)"><circle r="10"/><text>43</text></g><g class="r" transform="translate(1084 1459)"><circle r="10"/><text>45</text></g>

<!-- specials -->
<g class="s">
<circle class="sb" cx="1207" cy="163" r="11"/><text x="1207" y="163">3</text>
<circle class="sg" cx="1207" cy="190" r="11"/><text x="1207" y="190">44</text>
<circle class="sr" cx="1207" cy="217" r="11"/><text x="1207" y="217">40</text>
<circle class="sr" cx="1207" cy="244" r="11"/><text x="1207" y="244">1</text>
<circle class="sr" cx="1207" cy="271" r="11"/><text x="1207" y="271">35</text>
<circle class="sg" cx="1207" cy="298" r="11"/><text x="1207" y="298">27</text>
<circle class="sg" cx="1207" cy="325" r="11"/><text x="1207" y="325">43</text>
<circle class="sb" cx="1207" cy="352" r="11"/><text x="1207" y="352">20</text>
<circle class="sr" cx="1207" cy="379" r="11"/><text x="1207" y="379">45</text>
<circle class="sb" cx="1207" cy="406" r="11"/><text x="1207" y="406">42</text>
<circle class="sg" cx="1207" cy="433" r="11"/><text x="1207" y="433">44</text>
<circle class="sr" cx="1207" cy="460" r="11"/><text x="1207" y="460">46</text>
<circle class="sg" cx="1207" cy="487" r="11"/><text x="1207" y="487">32</text>
<circle class="sg" cx="1207" cy="514" r="11"/><text x="1207" y="514">21</text>
<circle class="sb" cx="1207" cy="541" r="11"/><text x="1207" y="541">48</text>
<circle class="sg" cx="1207" cy="568" r="11"/><text x="1207" y="568">33</text>
<circle class="sg" cx="1207" cy="595" r="11"/><text x="1207" y="595">22</text>
<circle class="sg" cx="1207" cy="622" r="11"/><text x="1207" y="622">27</text>
<circle class="sr" cx="1207" cy="649" r="11"/><text x="1207" y="649">2</text>
<circle class="sg" cx="1207" cy="676" r="11"/><text x="1207" y="676">43</text>
<circle class="sr" cx="1207" cy="703" r="11"/><text x="1207" y="703">2</text>
<circle class="sg" cx="1207" cy="730" r="11"/><text x="1207" y="730">16</text>
<circle class="sr" cx="1207" cy="757" r="11"/><text x="1207" y="757">12</text>
<circle class="sg" cx="1207" cy="784" r="11"/><text x="1207" y="784">27</text>
<circle class="sg" cx="1207" cy="811" r="11"/><text x="1207" y="811">43</text>
<circle class="sr" cx="1207" cy="838" r="11"/><text x="1207" y="838">35</text>
<circle class="sb" cx="1207" cy="865" r="11"/><text x="1207" y="865">14</text>
<circle class="sb" cx="1207" cy="892" r="11"/><text x="1207" y="892">14</text>
<circle class="sg" cx="1207" cy="919" r="11"/><text x="1207" y="919">16</text>
<circle class="sg" cx="1207" cy="946" r="11"/><text x="1207" y="946">44</text>
<circle class="sr" cx="1207" cy="973" r="11"/><text x="1207" y="973">46</text>
<circle class="sr" cx="1207" cy="1000" r="11"/><text x="1207" y="1000">7</text>
<circle class="sr" cx="1207" cy="1027" r="11"/><text x="1207" y="1027">19</text>
<circle class="sb" cx="1207" cy="1054" r="11"/><text x="1207" y="1054">37</text>
<circle class="sb" cx="1207" cy="1081" r="11"/><text x="1207" y="1081">4</text>
<circle class="sg" cx="1207" cy="1108" r="11"/><text x="1207" y="1108">17</text>
<circle class="sg" cx="1207" cy="1135" r="11"/><text x="1207" y="1135">49</text>
<circle class="sr" cx="1207" cy="1162" r="11"/><text x="1207" y="1162">2</text>
<circle class="sb" cx="1207" cy="1189" r="11"/><text x="1207" y="1189">48</text>
<circle class="sr" cx="1207" cy="1216" r="11"/><text x="1207" y="1216">7</text>
<circle class="sr" cx="1207" cy="1243" r="11"/><text x="1207" y="1243">12</text>
<circle class="sg" cx="1207" cy="1270" r="11"/><text x="1207" y="1270">22</text>
<circle class="sg" cx="1207" cy="1297" r="11"/><text x="1207" y="1297">21</text>
<circle class="sb" cx="1207" cy="1324" r="11"/><text x="1207" y="1324">36</text>
<circle class="sr" cx="1207" cy="1351" r="11"/><text x="1207" y="1351">2</text>
<circle class="sr" cx="1207" cy="1378" r="11"/><text x="1207" y="1378">29</text>
<circle class="sg" cx="1207" cy="1405" r="11"/><text x="1207" y="1405">32</text>
<circle class="sg" cx="1207" cy="1432" r="11"/><text x="1207" y="1432">21</text>
<circle class="sb" cx="1207" cy="1459" r="11"/><text x="1207" y="1459">25</text>
</g>
</svg>
</body></html>
